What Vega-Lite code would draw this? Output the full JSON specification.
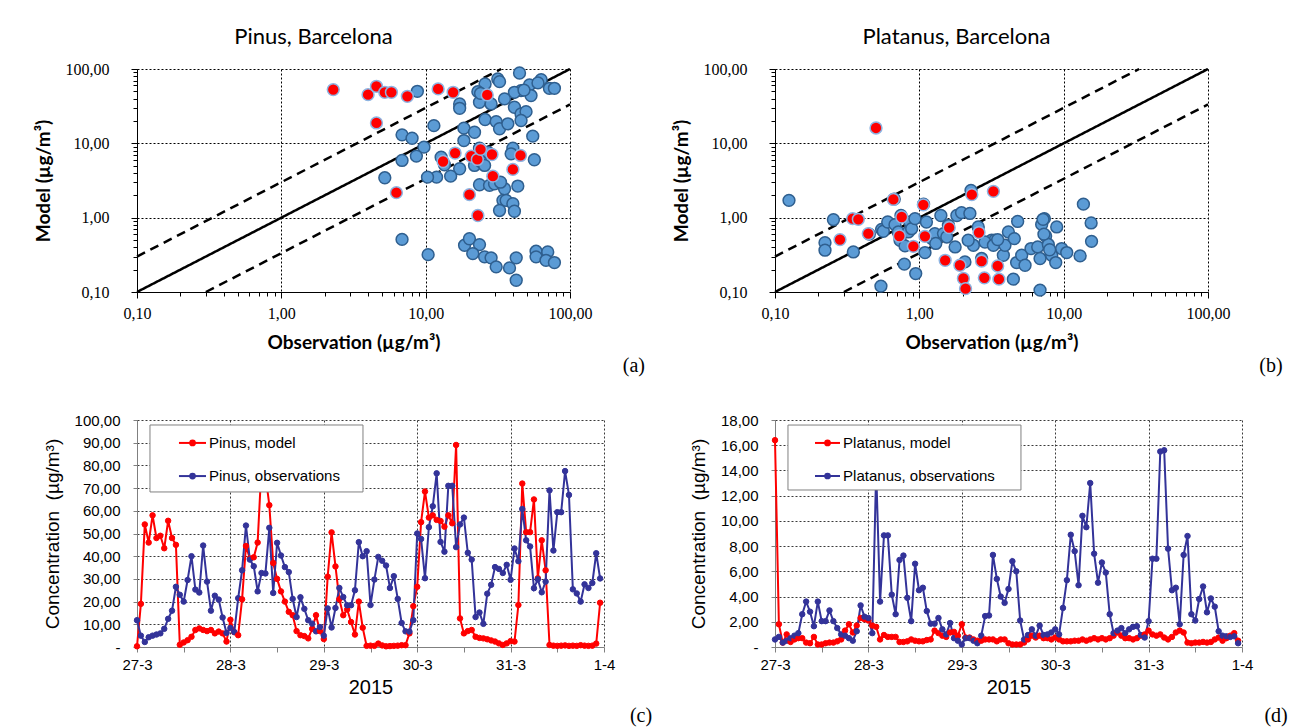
{
"$schema": "https://vega.github.io/schema/vega-lite/v6.json",
"background": "white",
"padding": {"left": 34, "top": 26, "right": 5, "bottom": 3},
"config": {"view": {"stroke": null}, "font": "Liberation Sans", "axis": {"labelColor": "black", "titleColor": "black"}},
"columns": 2,
"bounds": "flush",
"align": "all",
"spacing": {"row": 124, "column": 171},
"resolve": {"scale": {"color": "independent", "fill": "independent", "stroke": "independent", "strokeDash": "independent"}},
"datasets": {
"refLines": [
{"kind": "one", "x": 0.1, "y": 0.1}, {"kind": "one", "x": 100, "y": 100},
{"kind": "upper", "x": 0.1, "y": 0.3}, {"kind": "upper", "x": 33.333, "y": 100},
{"kind": "lower", "x": 0.3, "y": 0.1}, {"kind": "lower", "x": 100, "y": 33.333}
],
"pinusSc": [
{"obs":8.76,"model":50.1,"grp":"o"},{"obs":25.8,"model":62.9,"grp":"o"},{"obs":31.6,"model":73.4,"grp":"o"},{"obs":32.5,"model":67.6,"grp":"o"},{"obs":44.7,"model":88.3,"grp":"o"},{"obs":63.1,"model":71.9,"grp":"o"},{"obs":72,"model":55,"grp":"o"},{"obs":78,"model":55,"grp":"o"},{"obs":52.4,"model":61,"grp":"o"},{"obs":45.8,"model":51.2,"grp":"o"},{"obs":41.2,"model":48.6,"grp":"o"},{"obs":53.7,"model":43.9,"grp":"o"},{"obs":23.0,"model":49.6,"grp":"o"},{"obs":23.6,"model":35.7,"grp":"o"},{"obs":28.4,"model":33.9,"grp":"o"},{"obs":35.2,"model":39.6,"grp":"o"},{"obs":41.2,"model":30.6,"grp":"o"},{"obs":45.8,"model":24.9,"grp":"o"},{"obs":49.6,"model":26.7,"grp":"o"},{"obs":25.8,"model":20.9,"grp":"o"},{"obs":30.8,"model":19.6,"grp":"o"},{"obs":32.5,"model":15.7,"grp":"o"},{"obs":37.1,"model":18.3,"grp":"o"},{"obs":45.8,"model":20.3,"grp":"o"},{"obs":17.2,"model":33.9,"grp":"o"},{"obs":17.2,"model":29.6,"grp":"o"},{"obs":18.4,"model":16.0,"grp":"o"},{"obs":21.8,"model":14.1,"grp":"o"},{"obs":11.4,"model":17.3,"grp":"o"},{"obs":6.86,"model":13.0,"grp":"o"},{"obs":8.05,"model":11.7,"grp":"o"},{"obs":9.73,"model":8.89,"grp":"o"},{"obs":18.4,"model":10.9,"grp":"o"},{"obs":23.6,"model":8.6,"grp":"o"},{"obs":40.2,"model":8.6,"grp":"o"},{"obs":39.1,"model":7.23,"grp":"o"},{"obs":55.2,"model":12.5,"grp":"o"},{"obs":56.6,"model":6.01,"grp":"o"},{"obs":8.62,"model":6.73,"grp":"o"},{"obs":6.86,"model":5.89,"grp":"o"},{"obs":12.8,"model":6.52,"grp":"o"},{"obs":13.5,"model":5.15,"grp":"o"},{"obs":17.2,"model":4.55,"grp":"o"},{"obs":21.8,"model":5.04,"grp":"o"},{"obs":24.3,"model":5.59,"grp":"o"},{"obs":25.6,"model":5.04,"grp":"o"},{"obs":14.9,"model":3.62,"grp":"o"},{"obs":11.9,"model":3.51,"grp":"o"},{"obs":10.3,"model":3.51,"grp":"o"},{"obs":5.21,"model":3.44,"grp":"o"},{"obs":23.6,"model":2.77,"grp":"o"},{"obs":27.7,"model":2.72,"grp":"o"},{"obs":30.0,"model":2.86,"grp":"o"},{"obs":35.2,"model":2.45,"grp":"o"},{"obs":43.5,"model":2.66,"grp":"o"},{"obs":34.3,"model":1.71,"grp":"o"},{"obs":36.1,"model":1.71,"grp":"o"},{"obs":40.2,"model":1.54,"grp":"o"},{"obs":32.5,"model":1.25,"grp":"o"},{"obs":41.2,"model":1.22,"grp":"o"},{"obs":6.86,"model":0.51,"grp":"o"},{"obs":10.4,"model":0.318,"grp":"o"},{"obs":18.6,"model":0.425,"grp":"o"},{"obs":20.1,"model":0.52,"grp":"o"},{"obs":23.6,"model":0.434,"grp":"o"},{"obs":21.2,"model":0.329,"grp":"o"},{"obs":25.6,"model":0.297,"grp":"o"},{"obs":28.4,"model":0.288,"grp":"o"},{"obs":30.8,"model":0.218,"grp":"o"},{"obs":38.1,"model":0.211,"grp":"o"},{"obs":42.4,"model":0.288,"grp":"o"},{"obs":42.4,"model":0.144,"grp":"o"},{"obs":58.2,"model":0.353,"grp":"o"},{"obs":70.1,"model":0.346,"grp":"o"},{"obs":58.2,"model":0.297,"grp":"o"},{"obs":68.2,"model":0.267,"grp":"o"},{"obs":78,"model":0.249,"grp":"o"},{"obs":60,"model":65,"grp":"o"},{"obs":48,"model":52,"grp":"o"},{"obs":24,"model":47,"grp":"o"},{"obs":27,"model":7.6,"grp":"o"},{"obs":33,"model":3.0,"grp":"o"},
{"obs":2.29,"model":52.8,"grp":"r"},{"obs":3.99,"model":45.2,"grp":"r"},{"obs":4.56,"model":58.5,"grp":"r"},{"obs":5.21,"model":48.6,"grp":"r"},{"obs":5.79,"model":48.6,"grp":"r"},{"obs":7.47,"model":42.9,"grp":"r"},{"obs":12.2,"model":54,"grp":"r"},{"obs":15.5,"model":48.6,"grp":"r"},{"obs":26.7,"model":44.8,"grp":"r"},{"obs":4.56,"model":18.8,"grp":"r"},{"obs":6.27,"model":2.17,"grp":"r"},{"obs":13.2,"model":5.7,"grp":"r"},{"obs":16.0,"model":7.4,"grp":"r"},{"obs":20.7,"model":6.7,"grp":"r"},{"obs":22.8,"model":6.07,"grp":"r"},{"obs":24.0,"model":8.3,"grp":"r"},{"obs":28.8,"model":7.08,"grp":"r"},{"obs":45.4,"model":6.87,"grp":"r"},{"obs":40.2,"model":4.46,"grp":"r"},{"obs":29.2,"model":3.62,"grp":"r"},{"obs":20.1,"model":2.04,"grp":"r"},{"obs":23.0,"model":1.07,"grp":"r"}
],
"platanusSc": [
{"obs":0.125,"model":1.71,"grp":"o"},{"obs":0.254,"model":0.94,"grp":"o"},{"obs":0.222,"model":0.461,"grp":"o"},{"obs":0.222,"model":0.365,"grp":"o"},{"obs":0.349,"model":0.346,"grp":"o"},{"obs":0.548,"model":0.696,"grp":"o"},{"obs":0.563,"model":0.656,"grp":"o"},{"obs":0.604,"model":0.875,"grp":"o"},{"obs":0.678,"model":0.806,"grp":"o"},{"obs":0.746,"model":1.07,"grp":"o"},{"obs":0.715,"model":0.643,"grp":"o"},{"obs":0.735,"model":0.497,"grp":"o"},{"obs":0.796,"model":0.417,"grp":"o"},{"obs":0.839,"model":0.643,"grp":"o"},{"obs":0.861,"model":0.875,"grp":"o"},{"obs":0.885,"model":0.711,"grp":"o"},{"obs":0.933,"model":0.97,"grp":"o"},{"obs":1.07,"model":1.52,"grp":"o"},{"obs":1.12,"model":0.875,"grp":"o"},{"obs":1.094,"model":0.339,"grp":"o"},{"obs":0.787,"model":0.237,"grp":"o"},{"obs":0.944,"model":0.177,"grp":"o"},{"obs":0.542,"model":0.12,"grp":"o"},{"obs":1.22,"model":0.523,"grp":"o"},{"obs":1.28,"model":0.61,"grp":"o"},{"obs":1.41,"model":1.07,"grp":"o"},{"obs":1.47,"model":0.61,"grp":"o"},{"obs":1.59,"model":0.789,"grp":"o"},{"obs":1.82,"model":1.07,"grp":"o"},{"obs":1.96,"model":1.17,"grp":"o"},{"obs":2.24,"model":1.14,"grp":"o"},{"obs":2.28,"model":2.33,"grp":"o"},{"obs":1.77,"model":0.404,"grp":"o"},{"obs":2.07,"model":0.254,"grp":"o"},{"obs":2.37,"model":0.425,"grp":"o"},{"obs":2.56,"model":0.75,"grp":"o"},{"obs":2.70,"model":0.282,"grp":"o"},{"obs":3.17,"model":0.497,"grp":"o"},{"obs":3.34,"model":0.497,"grp":"o"},{"obs":3.82,"model":0.312,"grp":"o"},{"obs":3.92,"model":0.425,"grp":"o"},{"obs":4.14,"model":0.643,"grp":"o"},{"obs":4.55,"model":0.523,"grp":"o"},{"obs":4.80,"model":0.89,"grp":"o"},{"obs":4.48,"model":0.149,"grp":"o"},{"obs":4.72,"model":0.249,"grp":"o"},{"obs":5.12,"model":0.312,"grp":"o"},{"obs":5.40,"model":0.229,"grp":"o"},{"obs":5.94,"model":0.384,"grp":"o"},{"obs":6.61,"model":0.404,"grp":"o"},{"obs":6.86,"model":0.282,"grp":"o"},{"obs":6.86,"model":0.106,"grp":"o"},{"obs":7.04,"model":0.812,"grp":"o"},{"obs":7.35,"model":0.97,"grp":"o"},{"obs":7.50,"model":0.567,"grp":"o"},{"obs":7.83,"model":0.435,"grp":"o"},{"obs":8.26,"model":0.312,"grp":"o"},{"obs":8.81,"model":0.249,"grp":"o"},{"obs":8.95,"model":0.75,"grp":"o"},{"obs":9.68,"model":0.384,"grp":"o"},{"obs":10.5,"model":0.339,"grp":"o"},{"obs":13.0,"model":0.306,"grp":"o"},{"obs":13.7,"model":1.52,"grp":"o"},{"obs":15.5,"model":0.85,"grp":"o"},{"obs":15.6,"model":0.48,"grp":"o"},{"obs":2.18,"model":0.497,"grp":"o"},{"obs":2.85,"model":0.47,"grp":"o"},{"obs":3.26,"model":0.425,"grp":"o"},{"obs":3.49,"model":0.507,"grp":"o"},{"obs":0.45,"model":0.6,"grp":"o"},{"obs":1.3,"model":0.45,"grp":"o"},{"obs":1.55,"model":0.55,"grp":"o"},{"obs":7.2,"model":0.95,"grp":"o"},{"obs":7.3,"model":0.6,"grp":"o"},{"obs":8.0,"model":0.37,"grp":"o"},{"obs":0.67,"model":1.78,"grp":"o"},
{"obs":0.501,"model":16.1,"grp":"r"},{"obs":0.661,"model":1.76,"grp":"r"},{"obs":0.345,"model":0.97,"grp":"r"},{"obs":0.378,"model":0.95,"grp":"r"},{"obs":0.282,"model":0.507,"grp":"r"},{"obs":0.443,"model":0.61,"grp":"r"},{"obs":0.755,"model":1.02,"grp":"r"},{"obs":0.727,"model":0.567,"grp":"r"},{"obs":0.909,"model":0.412,"grp":"r"},{"obs":1.066,"model":1.49,"grp":"r"},{"obs":1.094,"model":0.561,"grp":"r"},{"obs":1.61,"model":0.734,"grp":"r"},{"obs":2.31,"model":2.04,"grp":"r"},{"obs":3.26,"model":2.26,"grp":"r"},{"obs":1.51,"model":0.267,"grp":"r"},{"obs":1.91,"model":0.229,"grp":"r"},{"obs":2.02,"model":0.152,"grp":"r"},{"obs":2.09,"model":0.111,"grp":"r"},{"obs":2.59,"model":0.63,"grp":"r"},{"obs":2.70,"model":0.26,"grp":"r"},{"obs":2.82,"model":0.155,"grp":"r"},{"obs":3.49,"model":0.224,"grp":"r"},{"obs":3.56,"model":0.149,"grp":"r"}
],
"ts": [
{"t":"2015-03-27T00:00Z","pm":0.3,"po":11.8,"lm":16.4,"lo":0.6},
{"t":"2015-03-27T01:00Z","pm":19,"po":5,"lm":1.8,"lo":0.8},
{"t":"2015-03-27T02:00Z","pm":54,"po":2.2,"lm":0.35,"lo":0.35},
{"t":"2015-03-27T03:00Z","pm":46,"po":4.3,"lm":1.0,"lo":0.5},
{"t":"2015-03-27T04:00Z","pm":58,"po":5,"lm":0.4,"lo":0.7},
{"t":"2015-03-27T05:00Z","pm":48,"po":5.5,"lm":0.6,"lo":0.9},
{"t":"2015-03-27T06:00Z","pm":49,"po":6,"lm":0.7,"lo":1.1},
{"t":"2015-03-27T07:00Z","pm":43.5,"po":8,"lm":0.7,"lo":2.6},
{"t":"2015-03-27T08:00Z","pm":55.6,"po":12.4,"lm":0.35,"lo":3.6},
{"t":"2015-03-27T09:00Z","pm":48,"po":16,"lm":0.3,"lo":2.8},
{"t":"2015-03-27T10:00Z","pm":45,"po":26.5,"lm":0.8,"lo":1.65},
{"t":"2015-03-27T11:00Z","pm":1.0,"po":23,"lm":0.2,"lo":3.6},
{"t":"2015-03-27T12:00Z","pm":2.0,"po":20,"lm":0.2,"lo":2.05},
{"t":"2015-03-27T13:00Z","pm":3.0,"po":29.5,"lm":0.3,"lo":2.05},
{"t":"2015-03-27T14:00Z","pm":4.5,"po":40,"lm":0.35,"lo":2.9},
{"t":"2015-03-27T15:00Z","pm":7.5,"po":25.3,"lm":0.35,"lo":2.05},
{"t":"2015-03-27T16:00Z","pm":8.2,"po":24,"lm":0.45,"lo":1.5},
{"t":"2015-03-27T17:00Z","pm":7.5,"po":44.7,"lm":0.6,"lo":1.0},
{"t":"2015-03-27T18:00Z","pm":7.0,"po":28.8,"lm":1.3,"lo":0.9},
{"t":"2015-03-27T19:00Z","pm":7.5,"po":16,"lm":1.8,"lo":0.7},
{"t":"2015-03-27T20:00Z","pm":6.0,"po":22.6,"lm":1.15,"lo":0.5},
{"t":"2015-03-27T21:00Z","pm":6.8,"po":20.9,"lm":1.7,"lo":1.25},
{"t":"2015-03-27T22:00Z","pm":6.0,"po":13,"lm":2.3,"lo":3.3},
{"t":"2015-03-27T23:00Z","pm":2.4,"po":6.2,"lm":2.2,"lo":2.4},
{"t":"2015-03-28T00:00Z","pm":12,"po":8.4,"lm":2.1,"lo":2.3},
{"t":"2015-03-28T01:00Z","pm":6.5,"po":6.6,"lm":1.7,"lo":1.1},
{"t":"2015-03-28T02:00Z","pm":5.2,"po":21.5,"lm":1.6,"lo":14.0},
{"t":"2015-03-28T03:00Z","pm":21,"po":33.8,"lm":0.6,"lo":3.6},
{"t":"2015-03-28T04:00Z","pm":44.5,"po":53.5,"lm":0.95,"lo":8.85},
{"t":"2015-03-28T05:00Z","pm":39,"po":38.5,"lm":0.8,"lo":8.85},
{"t":"2015-03-28T06:00Z","pm":39.5,"po":35.6,"lm":0.8,"lo":4.15},
{"t":"2015-03-28T07:00Z","pm":46,"po":24.5,"lm":0.8,"lo":2.6},
{"t":"2015-03-28T08:00Z","pm":80,"po":32.6,"lm":0.4,"lo":6.9},
{"t":"2015-03-28T09:00Z","pm":76,"po":32.4,"lm":0.4,"lo":7.25},
{"t":"2015-03-28T10:00Z","pm":62.5,"po":52.5,"lm":0.45,"lo":3.9},
{"t":"2015-03-28T11:00Z","pm":37,"po":23.8,"lm":0.6,"lo":2.05},
{"t":"2015-03-28T12:00Z","pm":30,"po":45.9,"lm":0.5,"lo":6.6},
{"t":"2015-03-28T13:00Z","pm":24.5,"po":40.3,"lm":0.45,"lo":4.5},
{"t":"2015-03-28T14:00Z","pm":20,"po":35.2,"lm":0.45,"lo":4.7},
{"t":"2015-03-28T15:00Z","pm":15.5,"po":33,"lm":0.55,"lo":2.85},
{"t":"2015-03-28T16:00Z","pm":14,"po":21.2,"lm":0.6,"lo":1.85},
{"t":"2015-03-28T17:00Z","pm":7,"po":13.2,"lm":1.3,"lo":1.85},
{"t":"2015-03-28T18:00Z","pm":5.2,"po":21.9,"lm":1.1,"lo":2.3},
{"t":"2015-03-28T19:00Z","pm":4.8,"po":16.8,"lm":0.9,"lo":1.4},
{"t":"2015-03-28T20:00Z","pm":3.8,"po":11.8,"lm":0.8,"lo":1.0},
{"t":"2015-03-28T21:00Z","pm":8,"po":10.3,"lm":1.15,"lo":1.9},
{"t":"2015-03-28T22:00Z","pm":14,"po":6.9,"lm":1.2,"lo":0.7},
{"t":"2015-03-28T23:00Z","pm":7,"po":8.8,"lm":0.9,"lo":0.5},
{"t":"2015-03-29T00:00Z","pm":3.5,"po":5,"lm":1.8,"lo":0.2},
{"t":"2015-03-29T01:00Z","pm":31,"po":17,"lm":0.75,"lo":0.7},
{"t":"2015-03-29T02:00Z","pm":50.5,"po":8.6,"lm":0.75,"lo":0.7},
{"t":"2015-03-29T03:00Z","pm":35.5,"po":17.2,"lm":0.6,"lo":0.5},
{"t":"2015-03-29T04:00Z","pm":21,"po":26,"lm":0.5,"lo":0.3},
{"t":"2015-03-29T05:00Z","pm":14,"po":22,"lm":0.5,"lo":0.9},
{"t":"2015-03-29T06:00Z","pm":16.5,"po":18.4,"lm":0.6,"lo":2.45},
{"t":"2015-03-29T07:00Z","pm":11,"po":18.4,"lm":0.6,"lo":2.5},
{"t":"2015-03-29T08:00Z","pm":5.5,"po":25,"lm":0.6,"lo":7.3},
{"t":"2015-03-29T09:00Z","pm":20,"po":46.2,"lm":0.45,"lo":5.4},
{"t":"2015-03-29T10:00Z","pm":8.5,"po":40,"lm":0.6,"lo":4.0},
{"t":"2015-03-29T11:00Z","pm":0.5,"po":42.2,"lm":0.6,"lo":3.5},
{"t":"2015-03-29T12:00Z","pm":0.6,"po":18.5,"lm":0.3,"lo":4.6},
{"t":"2015-03-29T13:00Z","pm":0.5,"po":29.7,"lm":0.2,"lo":6.8},
{"t":"2015-03-29T14:00Z","pm":1.5,"po":39.7,"lm":0.2,"lo":6.0},
{"t":"2015-03-29T15:00Z","pm":0.7,"po":38,"lm":0.2,"lo":2.1},
{"t":"2015-03-29T16:00Z","pm":0.3,"po":35.9,"lm":0.35,"lo":0.6},
{"t":"2015-03-29T17:00Z","pm":0.4,"po":26,"lm":0.6,"lo":0.95},
{"t":"2015-03-29T18:00Z","pm":0.5,"po":31.2,"lm":0.9,"lo":1.4},
{"t":"2015-03-29T19:00Z","pm":0.6,"po":21.2,"lm":0.75,"lo":0.9},
{"t":"2015-03-29T20:00Z","pm":0.8,"po":10.6,"lm":0.9,"lo":1.7},
{"t":"2015-03-29T21:00Z","pm":0.8,"po":6.9,"lm":0.7,"lo":0.95},
{"t":"2015-03-29T22:00Z","pm":6,"po":6.8,"lm":0.7,"lo":1.0},
{"t":"2015-03-29T23:00Z","pm":18,"po":11.8,"lm":0.6,"lo":1.15},
{"t":"2015-03-30T00:00Z","pm":26.5,"po":50,"lm":0.75,"lo":1.4},
{"t":"2015-03-30T01:00Z","pm":55,"po":47.6,"lm":0.6,"lo":1.0},
{"t":"2015-03-30T02:00Z","pm":68.5,"po":30.3,"lm":0.45,"lo":3.1},
{"t":"2015-03-30T03:00Z","pm":57,"po":52.8,"lm":0.45,"lo":5.3},
{"t":"2015-03-30T04:00Z","pm":58,"po":62,"lm":0.45,"lo":8.9},
{"t":"2015-03-30T05:00Z","pm":56,"po":76.5,"lm":0.5,"lo":7.6},
{"t":"2015-03-30T06:00Z","pm":55.5,"po":46.3,"lm":0.5,"lo":4.9},
{"t":"2015-03-30T07:00Z","pm":53,"po":42,"lm":0.6,"lo":10.4},
{"t":"2015-03-30T08:00Z","pm":58,"po":71,"lm":0.5,"lo":9.5},
{"t":"2015-03-30T09:00Z","pm":54.5,"po":71,"lm":0.6,"lo":13.0},
{"t":"2015-03-30T10:00Z","pm":89,"po":44,"lm":0.7,"lo":7.4},
{"t":"2015-03-30T11:00Z","pm":12.6,"po":54,"lm":0.6,"lo":5.1},
{"t":"2015-03-30T12:00Z","pm":6,"po":57,"lm":0.7,"lo":6.7},
{"t":"2015-03-30T13:00Z","pm":7,"po":41.5,"lm":0.6,"lo":5.9},
{"t":"2015-03-30T14:00Z","pm":7.5,"po":38.5,"lm":0.7,"lo":2.6},
{"t":"2015-03-30T15:00Z","pm":4.5,"po":13.2,"lm":0.9,"lo":1.1},
{"t":"2015-03-30T16:00Z","pm":4,"po":15.2,"lm":1.15,"lo":1.3},
{"t":"2015-03-30T17:00Z","pm":3.8,"po":10.2,"lm":0.9,"lo":1.5},
{"t":"2015-03-30T18:00Z","pm":3.4,"po":23.5,"lm":0.7,"lo":1.1},
{"t":"2015-03-30T19:00Z","pm":2.9,"po":27.4,"lm":0.7,"lo":1.4},
{"t":"2015-03-30T20:00Z","pm":2.4,"po":35.2,"lm":0.6,"lo":1.6},
{"t":"2015-03-30T21:00Z","pm":1.6,"po":34.4,"lm":0.7,"lo":1.65},
{"t":"2015-03-30T22:00Z","pm":0.9,"po":32.6,"lm":0.9,"lo":0.95},
{"t":"2015-03-30T23:00Z","pm":1.6,"po":36.2,"lm":1.0,"lo":0.75},
{"t":"2015-03-31T00:00Z","pm":2.6,"po":29.6,"lm":1.3,"lo":2.05},
{"t":"2015-03-31T01:00Z","pm":2.4,"po":43.4,"lm":1.0,"lo":7.0},
{"t":"2015-03-31T02:00Z","pm":18.5,"po":37.8,"lm":0.9,"lo":7.0},
{"t":"2015-03-31T03:00Z","pm":72,"po":60.8,"lm":1.0,"lo":15.5},
{"t":"2015-03-31T04:00Z","pm":50.6,"po":47,"lm":0.75,"lo":15.6},
{"t":"2015-03-31T05:00Z","pm":50.6,"po":44.3,"lm":0.6,"lo":7.8},
{"t":"2015-03-31T06:00Z","pm":65,"po":25.9,"lm":0.8,"lo":4.5},
{"t":"2015-03-31T07:00Z","pm":30.3,"po":29.8,"lm":1.15,"lo":4.7},
{"t":"2015-03-31T08:00Z","pm":47,"po":24.1,"lm":1.3,"lo":1.8},
{"t":"2015-03-31T09:00Z","pm":33.8,"po":28.8,"lm":1.15,"lo":7.3},
{"t":"2015-03-31T10:00Z","pm":0.9,"po":69,"lm":0.35,"lo":8.8},
{"t":"2015-03-31T11:00Z","pm":0.6,"po":42.5,"lm":0.3,"lo":2.6},
{"t":"2015-03-31T12:00Z","pm":0.5,"po":59.4,"lm":0.35,"lo":2.1},
{"t":"2015-03-31T13:00Z","pm":0.6,"po":59.4,"lm":0.35,"lo":3.8},
{"t":"2015-03-31T14:00Z","pm":0.7,"po":77.5,"lm":0.4,"lo":4.8},
{"t":"2015-03-31T15:00Z","pm":0.5,"po":67,"lm":0.35,"lo":2.75},
{"t":"2015-03-31T16:00Z","pm":0.6,"po":25.4,"lm":0.4,"lo":3.85},
{"t":"2015-03-31T17:00Z","pm":0.5,"po":23.6,"lm":0.6,"lo":3.2},
{"t":"2015-03-31T18:00Z","pm":0.8,"po":20,"lm":0.75,"lo":1.25},
{"t":"2015-03-31T19:00Z","pm":0.6,"po":27.6,"lm":0.5,"lo":0.9},
{"t":"2015-03-31T20:00Z","pm":0.5,"po":26,"lm":0.7,"lo":0.85},
{"t":"2015-03-31T21:00Z","pm":0.6,"po":28.2,"lm":0.9,"lo":0.8},
{"t":"2015-03-31T22:00Z","pm":1.5,"po":41.3,"lm":1.1,"lo":0.85},
{"t":"2015-03-31T23:00Z","pm":19.5,"po":30.2,"lm":0.5,"lo":0.3}
]
},
"concat": [
{
"width": 433, "height": 223,
"title": {"text": "Pinus, Barcelona", "font": "Lato", "fontSize": 22, "fontWeight": "normal", "color": "black", "dx": -40, "offset": 12},
"layer": [
{"data": {"name": "refLines"},
 "mark": {"type": "line", "color": "black", "strokeWidth": 2.5},
 "encoding": {
  "x": {"field": "x", "type": "quantitative", "scale": {"type": "log", "domain": [0.1, 100], "nice": false},
   "axis": {"orient": "bottom", "values": [0.1, 1, 10, 100], "labelExpr": "replace(format(datum.value, '.2f'), '.', ',')", "labelFont": "Liberation Serif", "labelFontSize": 16, "labelPadding": 7, "labelFlush": false, "labelOverlap": false, "title": "Observation (µg/m³)", "titleFont": "Lato", "titleFontSize": 19, "titleFontWeight": "bold", "titlePadding": 12, "grid": true, "gridColor": "black", "gridDash": [2, 2], "gridOpacity": 1, "domainColor": "black", "tickColor": "black", "tickSize": 6}},
  "y": {"field": "y", "type": "quantitative", "scale": {"type": "log", "domain": [0.1, 100], "nice": false},
   "axis": {"orient": "left", "values": [0.1, 1, 10, 100], "labelExpr": "replace(format(datum.value, '.2f'), '.', ',')", "labelFont": "Liberation Serif", "labelFontSize": 16, "labelPadding": 22, "labelFlush": false, "labelOverlap": false, "title": "Model (µg/m³)", "titleFont": "Lato", "titleFontSize": 19, "titleFontWeight": "bold", "titlePadding": 12, "grid": true, "gridColor": "black", "gridDash": [2, 2], "gridOpacity": 1, "domainColor": "black", "tickColor": "black", "tickSize": 6}},
  "strokeDash": {"field": "kind", "type": "nominal", "scale": {"domain": ["one", "upper", "lower"], "range": [[1, 0], [9, 6], [9, 6]]}, "legend": null}
 }},
{"data": {"name": "pinusSc"},
 "mark": {"type": "circle", "size": 140, "opacity": 1, "strokeWidth": 1.5},
 "encoding": {
  "x": {"field": "obs", "type": "quantitative", "scale": {"type": "log", "domain": [0.1, 100], "nice": false},
   "axis": {"orient": "bottom", "values": [0.2,0.3,0.4,0.5,0.6,0.7,0.8,0.9,2,3,4,5,6,7,8,9,20,30,40,50,60,70,80,90], "labels": false, "grid": false, "domain": false, "ticks": true, "tickSize": 4, "tickColor": "black", "title": null}},
  "y": {"field": "model", "type": "quantitative", "scale": {"type": "log", "domain": [0.1, 100], "nice": false},
   "axis": {"orient": "left", "values": [0.2,0.3,0.4,0.5,0.6,0.7,0.8,0.9,2,3,4,5,6,7,8,9,20,30,40,50,60,70,80,90], "labels": false, "grid": false, "domain": false, "ticks": true, "tickSize": 4, "tickColor": "black", "title": null}},
  "fill": {"field": "grp", "type": "nominal", "scale": {"domain": ["o", "r"], "range": ["#5B9BD5", "#FF0000"]}, "legend": null},
  "stroke": {"field": "grp", "type": "nominal", "scale": {"domain": ["o", "r"], "range": ["#2F5F8F", "#8DB4E2"]}, "legend": null}
 }},
{"data": {"values": [{}]},
 "mark": {"type": "text", "font": "Liberation Serif", "fontSize": 20, "color": "black"},
 "encoding": {
  "x": {"datum": 277, "type": "quantitative", "scale": {"type": "log", "domain": [0.1, 100], "nice": false}, "axis": null},
  "y": {"datum": 0.0101, "type": "quantitative", "scale": {"type": "log", "domain": [0.1, 100], "nice": false}, "axis": null},
  "text": {"value": "(a)"}
 }}
],
"resolve": {"axis": {"x": "independent", "y": "independent"}}
},
{
"width": 433, "height": 223,
"title": {"text": "Platanus, Barcelona", "font": "Lato", "fontSize": 22, "fontWeight": "normal", "color": "black", "dx": -35, "offset": 12},
"layer": [
{"data": {"name": "refLines"},
 "mark": {"type": "line", "color": "black", "strokeWidth": 2.5},
 "encoding": {
  "x": {"field": "x", "type": "quantitative", "scale": {"type": "log", "domain": [0.1, 100], "nice": false},
   "axis": {"orient": "bottom", "values": [0.1, 1, 10, 100], "labelExpr": "replace(format(datum.value, '.2f'), '.', ',')", "labelFont": "Liberation Serif", "labelFontSize": 16, "labelPadding": 7, "labelFlush": false, "labelOverlap": false, "title": "Observation (µg/m³)", "titleFont": "Lato", "titleFontSize": 19, "titleFontWeight": "bold", "titlePadding": 12, "grid": true, "gridColor": "black", "gridDash": [2, 2], "gridOpacity": 1, "domainColor": "black", "tickColor": "black", "tickSize": 6}},
  "y": {"field": "y", "type": "quantitative", "scale": {"type": "log", "domain": [0.1, 100], "nice": false},
   "axis": {"orient": "left", "values": [0.1, 1, 10, 100], "labelExpr": "replace(format(datum.value, '.2f'), '.', ',')", "labelFont": "Liberation Serif", "labelFontSize": 16, "labelPadding": 22, "labelFlush": false, "labelOverlap": false, "title": "Model (µg/m³)", "titleFont": "Lato", "titleFontSize": 19, "titleFontWeight": "bold", "titlePadding": 12, "grid": true, "gridColor": "black", "gridDash": [2, 2], "gridOpacity": 1, "domainColor": "black", "tickColor": "black", "tickSize": 6}},
  "strokeDash": {"field": "kind", "type": "nominal", "scale": {"domain": ["one", "upper", "lower"], "range": [[1, 0], [9, 6], [9, 6]]}, "legend": null}
 }},
{"data": {"name": "platanusSc"},
 "mark": {"type": "circle", "size": 140, "opacity": 1, "strokeWidth": 1.5},
 "encoding": {
  "x": {"field": "obs", "type": "quantitative", "scale": {"type": "log", "domain": [0.1, 100], "nice": false},
   "axis": {"orient": "bottom", "values": [0.2,0.3,0.4,0.5,0.6,0.7,0.8,0.9,2,3,4,5,6,7,8,9,20,30,40,50,60,70,80,90], "labels": false, "grid": false, "domain": false, "ticks": true, "tickSize": 4, "tickColor": "black", "title": null}},
  "y": {"field": "model", "type": "quantitative", "scale": {"type": "log", "domain": [0.1, 100], "nice": false},
   "axis": {"orient": "left", "values": [0.2,0.3,0.4,0.5,0.6,0.7,0.8,0.9,2,3,4,5,6,7,8,9,20,30,40,50,60,70,80,90], "labels": false, "grid": false, "domain": false, "ticks": true, "tickSize": 4, "tickColor": "black", "title": null}},
  "fill": {"field": "grp", "type": "nominal", "scale": {"domain": ["o", "r"], "range": ["#5B9BD5", "#FF0000"]}, "legend": null},
  "stroke": {"field": "grp", "type": "nominal", "scale": {"domain": ["o", "r"], "range": ["#2F5F8F", "#8DB4E2"]}, "legend": null}
 }},
{"data": {"values": [{}]},
 "mark": {"type": "text", "font": "Liberation Serif", "fontSize": 20, "color": "black"},
 "encoding": {
  "x": {"datum": 273, "type": "quantitative", "scale": {"type": "log", "domain": [0.1, 100], "nice": false}, "axis": null},
  "y": {"datum": 0.0101, "type": "quantitative", "scale": {"type": "log", "domain": [0.1, 100], "nice": false}, "axis": null},
  "text": {"value": "(b)"}
 }}
],
"resolve": {"axis": {"x": "independent", "y": "independent"}}
},
{
"width": 467, "height": 227,
"data": {"name": "ts"},
"transform": [{"fold": ["pm", "po"], "as": ["series", "value"]}],
"layer": [
{"mark": {"type": "line", "strokeWidth": 2},
 "encoding": {
  "x": {"field": "t", "type": "temporal", "scale": {"type": "utc", "nice": false, "domain": [{"year": 2015, "month": 3, "date": 27, "utc": true}, {"year": 2015, "month": 4, "date": 1, "utc": true}]},
   "axis": {"orient": "bottom", "values": [{"year": 2015, "month": 3, "date": 27, "utc": true}, {"year": 2015, "month": 3, "date": 28, "utc": true}, {"year": 2015, "month": 3, "date": 29, "utc": true}, {"year": 2015, "month": 3, "date": 30, "utc": true}, {"year": 2015, "month": 3, "date": 31, "utc": true}, {"year": 2015, "month": 4, "date": 1, "utc": true}], "format": "%-d-%-m", "labelFont": "Liberation Sans", "labelFontSize": 15, "labelPadding": 5, "labelFlush": false, "labelOverlap": false, "title": "2015", "titleFont": "Liberation Sans", "titleFontSize": 20, "titleFontWeight": "normal", "titlePadding": 5, "grid": true, "gridColor": "#3a3a3a", "gridDash": [2, 2], "gridOpacity": 1, "domainColor": "#808080", "tickColor": "#808080", "tickSize": 5}},
  "y": {"field": "value", "type": "quantitative", "scale": {"domain": [0, 100], "nice": false},
   "axis": {"orient": "left", "values": [0,10,20,30,40,50,60,70,80,90,100], "labelExpr": "datum.value == 0 ? '-\u00a0\u00a0' : replace(format(datum.value, '.2f'), '.', ',')", "labelFont": "Liberation Sans", "labelFontSize": 15, "labelPadding": 13, "labelOverlap": false, "title": "Concentration\u00a0 (µg/m³)", "titleFont": "Liberation Sans", "titleFontSize": 19, "titleFontWeight": "normal", "titlePadding": 12, "grid": true, "gridColor": "#3a3a3a", "gridDash": [2, 2], "gridOpacity": 1, "domainColor": "#808080", "tickColor": "#808080", "tickSize": 4}},
  "color": {"field": "series", "type": "nominal", "scale": {"domain": ["pm", "po"], "range": ["#FF0000", "#333399"]}, "legend": null}
 }},
{"mark": {"type": "circle", "size": 30, "opacity": 1, "strokeWidth": 1},
 "encoding": {
  "x": {"field": "t", "type": "temporal", "scale": {"type": "utc", "nice": false, "domain": [{"year": 2015, "month": 3, "date": 27, "utc": true}, {"year": 2015, "month": 4, "date": 1, "utc": true}]},
   "axis": {"orient": "bottom", "values": [{"year": 2015, "month": 3, "date": 27, "hours": 12, "utc": true}, {"year": 2015, "month": 3, "date": 28, "hours": 12, "utc": true}, {"year": 2015, "month": 3, "date": 29, "hours": 12, "utc": true}, {"year": 2015, "month": 3, "date": 30, "hours": 12, "utc": true}, {"year": 2015, "month": 3, "date": 31, "hours": 12, "utc": true}], "labels": false, "grid": false, "domain": false, "ticks": true, "tickSize": 5, "tickColor": "#808080", "title": null}},
  "y": {"field": "value", "type": "quantitative", "scale": {"domain": [0, 100], "nice": false}, "axis": null},
  "fill": {"field": "series", "type": "nominal", "scale": {"domain": ["pm", "po"], "range": ["#FF0000", "#333399"]}, "legend": null},
  "stroke": {"field": "series", "type": "nominal", "scale": {"domain": ["pm", "po"], "range": ["#FF0000", "#333399"]}, "legend": null}
 }},
{"data": {"values": [{}]},
 "mark": {"type": "rect", "fill": "white", "stroke": "#808080", "strokeWidth": 1},
 "encoding": {
  "x": {"datum": {"year": 2015, "month": 3, "date": 27, "hours": 3, "minutes": 20, "utc": true}, "type": "temporal", "scale": {"type": "utc", "nice": false, "domain": [{"year": 2015, "month": 3, "date": 27, "utc": true}, {"year": 2015, "month": 4, "date": 1, "utc": true}]}, "axis": null},
  "x2": {"datum": {"year": 2015, "month": 3, "date": 29, "hours": 10, "minutes": 4, "utc": true}},
  "y": {"datum": 97.8, "type": "quantitative", "scale": {"domain": [0, 100], "nice": false}, "axis": null},
  "y2": {"datum": 68.3}
 }},
{"data": {"values": [{}]},
 "mark": {"type": "rule", "color": "#FF0000", "strokeWidth": 2},
 "encoding": {
  "x": {"datum": {"year": 2015, "month": 3, "date": 27, "hours": 10, "minutes": 47, "utc": true}, "type": "temporal", "scale": {"type": "utc", "nice": false, "domain": [{"year": 2015, "month": 3, "date": 27, "utc": true}, {"year": 2015, "month": 4, "date": 1, "utc": true}]}, "axis": null},
  "x2": {"datum": {"year": 2015, "month": 3, "date": 27, "hours": 17, "minutes": 44, "utc": true}},
  "y": {"datum": 89.9, "type": "quantitative", "scale": {"domain": [0, 100], "nice": false}, "axis": null}
 }},
{"data": {"values": [{}]},
 "mark": {"type": "rule", "color": "#333399", "strokeWidth": 2},
 "encoding": {
  "x": {"datum": {"year": 2015, "month": 3, "date": 27, "hours": 10, "minutes": 47, "utc": true}, "type": "temporal", "scale": {"type": "utc", "nice": false, "domain": [{"year": 2015, "month": 3, "date": 27, "utc": true}, {"year": 2015, "month": 4, "date": 1, "utc": true}]}, "axis": null},
  "x2": {"datum": {"year": 2015, "month": 3, "date": 27, "hours": 17, "minutes": 44, "utc": true}},
  "y": {"datum": 75.3, "type": "quantitative", "scale": {"domain": [0, 100], "nice": false}, "axis": null}
 }},
{"data": {"values": [{}]},
 "mark": {"type": "circle", "color": "#FF0000", "size": 45, "opacity": 1},
 "encoding": {
  "x": {"datum": {"year": 2015, "month": 3, "date": 27, "hours": 14, "minutes": 16, "utc": true}, "type": "temporal", "scale": {"type": "utc", "nice": false, "domain": [{"year": 2015, "month": 3, "date": 27, "utc": true}, {"year": 2015, "month": 4, "date": 1, "utc": true}]}, "axis": null},
  "y": {"datum": 89.9, "type": "quantitative", "scale": {"domain": [0, 100], "nice": false}, "axis": null}
 }},
{"data": {"values": [{}]},
 "mark": {"type": "circle", "color": "#333399", "size": 45, "opacity": 1},
 "encoding": {
  "x": {"datum": {"year": 2015, "month": 3, "date": 27, "hours": 14, "minutes": 16, "utc": true}, "type": "temporal", "scale": {"type": "utc", "nice": false, "domain": [{"year": 2015, "month": 3, "date": 27, "utc": true}, {"year": 2015, "month": 4, "date": 1, "utc": true}]}, "axis": null},
  "y": {"datum": 75.3, "type": "quantitative", "scale": {"domain": [0, 100], "nice": false}, "axis": null}
 }},
{"data": {"values": [{}]},
 "mark": {"type": "text", "align": "left", "baseline": "middle", "font": "Liberation Sans", "fontSize": 15, "color": "black"},
 "encoding": {
  "x": {"datum": {"year": 2015, "month": 3, "date": 27, "hours": 18, "minutes": 30, "utc": true}, "type": "temporal", "scale": {"type": "utc", "nice": false, "domain": [{"year": 2015, "month": 3, "date": 27, "utc": true}, {"year": 2015, "month": 4, "date": 1, "utc": true}]}, "axis": null},
  "y": {"datum": 89.9, "type": "quantitative", "scale": {"domain": [0, 100], "nice": false}, "axis": null},
  "text": {"value": "Pinus, model"}
 }},
{"data": {"values": [{}]},
 "mark": {"type": "text", "align": "left", "baseline": "middle", "font": "Liberation Sans", "fontSize": 15, "color": "black"},
 "encoding": {
  "x": {"datum": {"year": 2015, "month": 3, "date": 27, "hours": 18, "minutes": 30, "utc": true}, "type": "temporal", "scale": {"type": "utc", "nice": false, "domain": [{"year": 2015, "month": 3, "date": 27, "utc": true}, {"year": 2015, "month": 4, "date": 1, "utc": true}]}, "axis": null},
  "y": {"datum": 75.3, "type": "quantitative", "scale": {"domain": [0, 100], "nice": false}, "axis": null},
  "text": {"value": "Pinus, observations"}
 }},
{"data": {"values": [{}]},
 "mark": {"type": "text", "font": "Liberation Serif", "fontSize": 20, "color": "black"},
 "encoding": {
  "x": {"datum": {"year": 2015, "month": 4, "date": 1, "hours": 9, "minutes": 30, "utc": true}, "type": "temporal", "scale": {"type": "utc", "nice": false, "domain": [{"year": 2015, "month": 3, "date": 27, "utc": true}, {"year": 2015, "month": 4, "date": 1, "utc": true}]}, "axis": null},
  "y": {"datum": -30.4, "type": "quantitative", "scale": {"domain": [0, 100], "nice": false}, "axis": null},
  "text": {"value": "(c)"}
 }}
],
"resolve": {"axis": {"x": "independent", "y": "independent"}}
},
{
"width": 467, "height": 227,
"data": {"name": "ts"},
"transform": [{"fold": ["lm", "lo"], "as": ["series", "value"]}],
"layer": [
{"mark": {"type": "line", "strokeWidth": 2},
 "encoding": {
  "x": {"field": "t", "type": "temporal", "scale": {"type": "utc", "nice": false, "domain": [{"year": 2015, "month": 3, "date": 27, "utc": true}, {"year": 2015, "month": 4, "date": 1, "utc": true}]},
   "axis": {"orient": "bottom", "values": [{"year": 2015, "month": 3, "date": 27, "utc": true}, {"year": 2015, "month": 3, "date": 28, "utc": true}, {"year": 2015, "month": 3, "date": 29, "utc": true}, {"year": 2015, "month": 3, "date": 30, "utc": true}, {"year": 2015, "month": 3, "date": 31, "utc": true}, {"year": 2015, "month": 4, "date": 1, "utc": true}], "format": "%-d-%-m", "labelFont": "Liberation Sans", "labelFontSize": 15, "labelPadding": 5, "labelFlush": false, "labelOverlap": false, "title": "2015", "titleFont": "Liberation Sans", "titleFontSize": 20, "titleFontWeight": "normal", "titlePadding": 5, "grid": true, "gridColor": "#3a3a3a", "gridDash": [2, 2], "gridOpacity": 1, "domainColor": "#808080", "tickColor": "#808080", "tickSize": 5}},
  "y": {"field": "value", "type": "quantitative", "scale": {"domain": [0, 18], "nice": false},
   "axis": {"orient": "left", "values": [0,2,4,6,8,10,12,14,16,18], "labelExpr": "datum.value == 0 ? '-\u00a0\u00a0' : replace(format(datum.value, '.2f'), '.', ',')", "labelFont": "Liberation Sans", "labelFontSize": 15, "labelPadding": 13, "labelOverlap": false, "title": "Concentration\u00a0 (µg/m³)", "titleFont": "Liberation Sans", "titleFontSize": 19, "titleFontWeight": "normal", "titlePadding": 12, "grid": true, "gridColor": "#3a3a3a", "gridDash": [2, 2], "gridOpacity": 1, "domainColor": "#808080", "tickColor": "#808080", "tickSize": 4}},
  "color": {"field": "series", "type": "nominal", "scale": {"domain": ["lm", "lo"], "range": ["#FF0000", "#333399"]}, "legend": null}
 }},
{"mark": {"type": "circle", "size": 30, "opacity": 1, "strokeWidth": 1},
 "encoding": {
  "x": {"field": "t", "type": "temporal", "scale": {"type": "utc", "nice": false, "domain": [{"year": 2015, "month": 3, "date": 27, "utc": true}, {"year": 2015, "month": 4, "date": 1, "utc": true}]},
   "axis": {"orient": "bottom", "values": [{"year": 2015, "month": 3, "date": 27, "hours": 12, "utc": true}, {"year": 2015, "month": 3, "date": 28, "hours": 12, "utc": true}, {"year": 2015, "month": 3, "date": 29, "hours": 12, "utc": true}, {"year": 2015, "month": 3, "date": 30, "hours": 12, "utc": true}, {"year": 2015, "month": 3, "date": 31, "hours": 12, "utc": true}], "labels": false, "grid": false, "domain": false, "ticks": true, "tickSize": 5, "tickColor": "#808080", "title": null}},
  "y": {"field": "value", "type": "quantitative", "scale": {"domain": [0, 18], "nice": false}, "axis": null},
  "fill": {"field": "series", "type": "nominal", "scale": {"domain": ["lm", "lo"], "range": ["#FF0000", "#333399"]}, "legend": null},
  "stroke": {"field": "series", "type": "nominal", "scale": {"domain": ["lm", "lo"], "range": ["#FF0000", "#333399"]}, "legend": null}
 }},
{"data": {"values": [{}]},
 "mark": {"type": "rect", "fill": "white", "stroke": "#808080", "strokeWidth": 1},
 "encoding": {
  "x": {"datum": {"year": 2015, "month": 3, "date": 27, "hours": 3, "minutes": 20, "utc": true}, "type": "temporal", "scale": {"type": "utc", "nice": false, "domain": [{"year": 2015, "month": 3, "date": 27, "utc": true}, {"year": 2015, "month": 4, "date": 1, "utc": true}]}, "axis": null},
  "x2": {"datum": {"year": 2015, "month": 3, "date": 29, "hours": 15, "minutes": 12, "utc": true}},
  "y": {"datum": 17.6, "type": "quantitative", "scale": {"domain": [0, 18], "nice": false}, "axis": null},
  "y2": {"datum": 12.45}
 }},
{"data": {"values": [{}]},
 "mark": {"type": "rule", "color": "#FF0000", "strokeWidth": 2},
 "encoding": {
  "x": {"datum": {"year": 2015, "month": 3, "date": 27, "hours": 10, "minutes": 17, "utc": true}, "type": "temporal", "scale": {"type": "utc", "nice": false, "domain": [{"year": 2015, "month": 3, "date": 27, "utc": true}, {"year": 2015, "month": 4, "date": 1, "utc": true}]}, "axis": null},
  "x2": {"datum": {"year": 2015, "month": 3, "date": 27, "hours": 16, "minutes": 42, "utc": true}},
  "y": {"datum": 16.18, "type": "quantitative", "scale": {"domain": [0, 18], "nice": false}, "axis": null}
 }},
{"data": {"values": [{}]},
 "mark": {"type": "rule", "color": "#333399", "strokeWidth": 2},
 "encoding": {
  "x": {"datum": {"year": 2015, "month": 3, "date": 27, "hours": 10, "minutes": 17, "utc": true}, "type": "temporal", "scale": {"type": "utc", "nice": false, "domain": [{"year": 2015, "month": 3, "date": 27, "utc": true}, {"year": 2015, "month": 4, "date": 1, "utc": true}]}, "axis": null},
  "x2": {"datum": {"year": 2015, "month": 3, "date": 27, "hours": 16, "minutes": 42, "utc": true}},
  "y": {"datum": 13.56, "type": "quantitative", "scale": {"domain": [0, 18], "nice": false}, "axis": null}
 }},
{"data": {"values": [{}]},
 "mark": {"type": "circle", "color": "#FF0000", "size": 45, "opacity": 1},
 "encoding": {
  "x": {"datum": {"year": 2015, "month": 3, "date": 27, "hours": 13, "minutes": 30, "utc": true}, "type": "temporal", "scale": {"type": "utc", "nice": false, "domain": [{"year": 2015, "month": 3, "date": 27, "utc": true}, {"year": 2015, "month": 4, "date": 1, "utc": true}]}, "axis": null},
  "y": {"datum": 16.18, "type": "quantitative", "scale": {"domain": [0, 18], "nice": false}, "axis": null}
 }},
{"data": {"values": [{}]},
 "mark": {"type": "circle", "color": "#333399", "size": 45, "opacity": 1},
 "encoding": {
  "x": {"datum": {"year": 2015, "month": 3, "date": 27, "hours": 13, "minutes": 30, "utc": true}, "type": "temporal", "scale": {"type": "utc", "nice": false, "domain": [{"year": 2015, "month": 3, "date": 27, "utc": true}, {"year": 2015, "month": 4, "date": 1, "utc": true}]}, "axis": null},
  "y": {"datum": 13.56, "type": "quantitative", "scale": {"domain": [0, 18], "nice": false}, "axis": null}
 }},
{"data": {"values": [{}]},
 "mark": {"type": "text", "align": "left", "baseline": "middle", "font": "Liberation Sans", "fontSize": 15, "color": "black"},
 "encoding": {
  "x": {"datum": {"year": 2015, "month": 3, "date": 27, "hours": 17, "minutes": 30, "utc": true}, "type": "temporal", "scale": {"type": "utc", "nice": false, "domain": [{"year": 2015, "month": 3, "date": 27, "utc": true}, {"year": 2015, "month": 4, "date": 1, "utc": true}]}, "axis": null},
  "y": {"datum": 16.18, "type": "quantitative", "scale": {"domain": [0, 18], "nice": false}, "axis": null},
  "text": {"value": "Platanus, model"}
 }},
{"data": {"values": [{}]},
 "mark": {"type": "text", "align": "left", "baseline": "middle", "font": "Liberation Sans", "fontSize": 15, "color": "black"},
 "encoding": {
  "x": {"datum": {"year": 2015, "month": 3, "date": 27, "hours": 17, "minutes": 30, "utc": true}, "type": "temporal", "scale": {"type": "utc", "nice": false, "domain": [{"year": 2015, "month": 3, "date": 27, "utc": true}, {"year": 2015, "month": 4, "date": 1, "utc": true}]}, "axis": null},
  "y": {"datum": 13.56, "type": "quantitative", "scale": {"domain": [0, 18], "nice": false}, "axis": null},
  "text": {"value": "Platanus, observations"}
 }},
{"data": {"values": [{}]},
 "mark": {"type": "text", "font": "Liberation Serif", "fontSize": 20, "color": "black"},
 "encoding": {
  "x": {"datum": {"year": 2015, "month": 4, "date": 1, "hours": 8, "minutes": 45, "utc": true}, "type": "temporal", "scale": {"type": "utc", "nice": false, "domain": [{"year": 2015, "month": 3, "date": 27, "utc": true}, {"year": 2015, "month": 4, "date": 1, "utc": true}]}, "axis": null},
  "y": {"datum": -5.47, "type": "quantitative", "scale": {"domain": [0, 18], "nice": false}, "axis": null},
  "text": {"value": "(d)"}
 }}
],
"resolve": {"axis": {"x": "independent", "y": "independent"}}
}
]
}
